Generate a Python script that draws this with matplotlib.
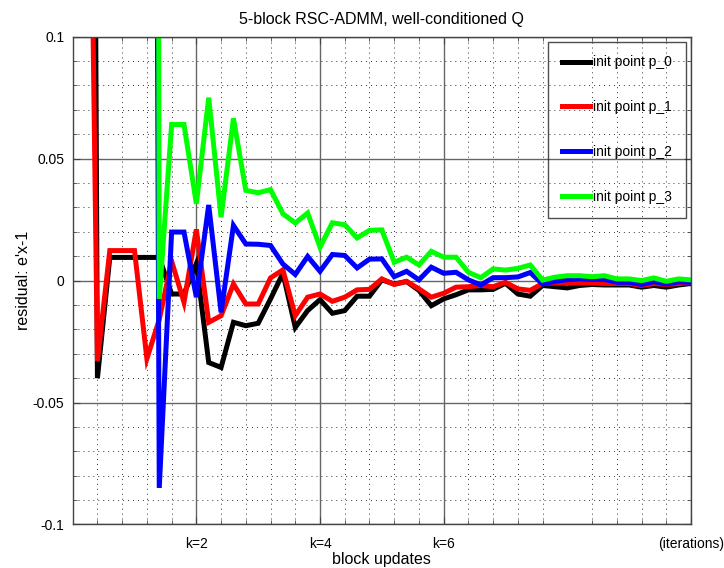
import numpy as np
import matplotlib
matplotlib.use("Agg")
import matplotlib.pyplot as plt
from matplotlib.ticker import FixedLocator

plt.rcParams['font.family'] = ['Liberation Sans', 'DejaVu Sans']

# block updates (5 per iteration)
blocks = np.arange(1, 51)

nan = np.nan
# residual e'x-1 for each starting point
res_p0 = [1.0, -0.040, 0.0095, 0.0095, 0.0095, 0.0095, 0.0095, -0.0055, -0.0055, 0.007,
          -0.0336, -0.0356, -0.0171, -0.0185, -0.0175, -0.0075, 0.003, -0.0192, -0.0123, -0.0078,
          -0.0134, -0.0123, -0.0064, -0.0064, 0.0003, -0.0014, -0.0004, -0.004, -0.0103, -0.0075,
          -0.0058, -0.0038, -0.0038, -0.0036, -0.0011, -0.0055, -0.0064, -0.002, -0.0025, -0.003,
          -0.002, -0.0016, -0.0018, -0.0018, -0.0018, -0.0027, -0.002, -0.0027, -0.0018, -0.0012]
res_p1 = [0.35, -0.033, 0.0123, 0.0123, 0.0123, -0.032, -0.016, 0.008, -0.0089, 0.021,
          -0.0171, -0.0144, -0.0014, -0.0096, -0.0096, 0.0011, 0.0044, -0.0144, -0.0068, -0.0055,
          -0.0085, -0.0068, -0.0038, -0.0036, 0.0007, -0.0016, -0.0003, -0.0034, -0.0068, -0.0052,
          -0.0027, -0.0025, -0.002, -0.0025, -0.0007, -0.0034, -0.004, -0.0012, -0.001, -0.001,
          -0.001, -0.001, -0.0012, -0.0012, -0.0012, -0.002, -0.0012, -0.0016, -0.0012, -0.0008]
res_p2 = [nan, nan, nan, nan, nan, 1.2, -0.085, 0.0199, 0.0199, -0.0068,
          0.031, -0.013, 0.0226, 0.015, 0.0149, 0.0144, 0.0068, 0.0025, 0.0099, 0.0038,
          0.0107, 0.0103, 0.0052, 0.0088, 0.0089, 0.0016, 0.0038, 0.0003, 0.0055, 0.003,
          0.0034, 0.0003, -0.0018, 0.0012, 0.0012, 0.0015, 0.0033, -0.0014, -0.0003, 0.0004,
          0.0007, 0.0005, 0.0005, -0.0007, -0.0007, -0.0016, -0.0004, -0.0014, -0.0005, -0.0007]
res_p3 = [nan, nan, nan, nan, nan, 2.5, -0.0075, 0.064, 0.064, 0.0315,
          0.075, 0.026, 0.0665, 0.037, 0.036, 0.0373, 0.0274, 0.0236, 0.0277, 0.0137,
          0.0237, 0.0229, 0.0175, 0.0206, 0.0208, 0.0075, 0.0096, 0.0064, 0.012, 0.0096,
          0.0096, 0.0034, 0.0012, 0.0048, 0.0043, 0.005, 0.0064, 0.0002, 0.0014, 0.002,
          0.002, 0.0016, 0.002, 0.0007, 0.0007, 0.0, 0.0011, -0.0003, 0.0007, 0.0003]

series = [res_p0, res_p1, res_p2, res_p3]
labels = ['init point p_0', 'init point p_1', 'init point p_2', 'init point p_3']
colors = ['#000000', '#ff0000', '#0000ff', '#00ff00']

xtick_pos = [10, 20, 30, 50]
xtick_lab = ['k=2', 'k=4', 'k=6', '(iterations)']
xminor_pos = [2, 4, 6, 8, 12, 14, 16, 18, 22, 24, 26, 28, 32, 34, 36, 38, 42, 44, 46, 48]
ytick_pos = [-0.1, -0.05, 0, 0.05, 0.1]
ytick_lab = ['-0.1', '-0.05', '0', '0.05', '0.1']

fig = plt.figure(figsize=(7.24, 5.68), dpi=100)
ax = fig.add_axes([0.1004, 0.0766, 0.854, 0.8588])

for vals, lab, col in zip(series, labels, colors):
    ax.plot(blocks, vals, color=col, lw=3.6, label=lab, solid_joinstyle='miter')

ax.set_xlim(0, 50)
ax.set_ylim(-0.1, 0.1)
ax.set_xticks(xtick_pos)
ax.set_xticklabels(xtick_lab)
ax.xaxis.set_minor_locator(FixedLocator(xminor_pos))
ax.set_yticks(ytick_pos)
ax.set_yticklabels(ytick_lab)
ax.yaxis.set_minor_locator(FixedLocator(np.arange(-0.09, 0.1, 0.01)))

edge = '#444444'
ax.grid(which='major', color='#666666', lw=1.0, ls='-')
ax.grid(which='minor', color='#333333', lw=0.7, ls=(0, (1.0, 4.1)))
ax.set_axisbelow(True)
for s in ax.spines.values():
    s.set_color(edge)
    s.set_linewidth(1.0)

ax.tick_params(which='both', direction='in', top=True, right=True, color=edge, labelsize=10)
ax.tick_params(which='major', length=5)
ax.tick_params(which='minor', length=3)
ax.tick_params(axis='x', which='major', pad=9)
ax.tick_params(axis='y', which='major', pad=6)

ax.set_title("5-block RSC-ADMM, well-conditioned Q", fontsize=11.5, pad=9)
ax.set_xlabel("block updates", fontsize=11.5, labelpad=1)
ax.set_ylabel("residual: e'x-1", fontsize=11.5, labelpad=1)

leg = ax.legend(loc='upper right', fontsize=10, labelspacing=2.22, handlelength=2.0,
                handletextpad=0.25, borderpad=1.0, borderaxespad=0.35, fancybox=False)
leg.get_frame().set_facecolor('none')
leg.get_frame().set_edgecolor('#222222')
leg.get_frame().set_linewidth(1.0)

fig.savefig('out.png', dpi=100)
